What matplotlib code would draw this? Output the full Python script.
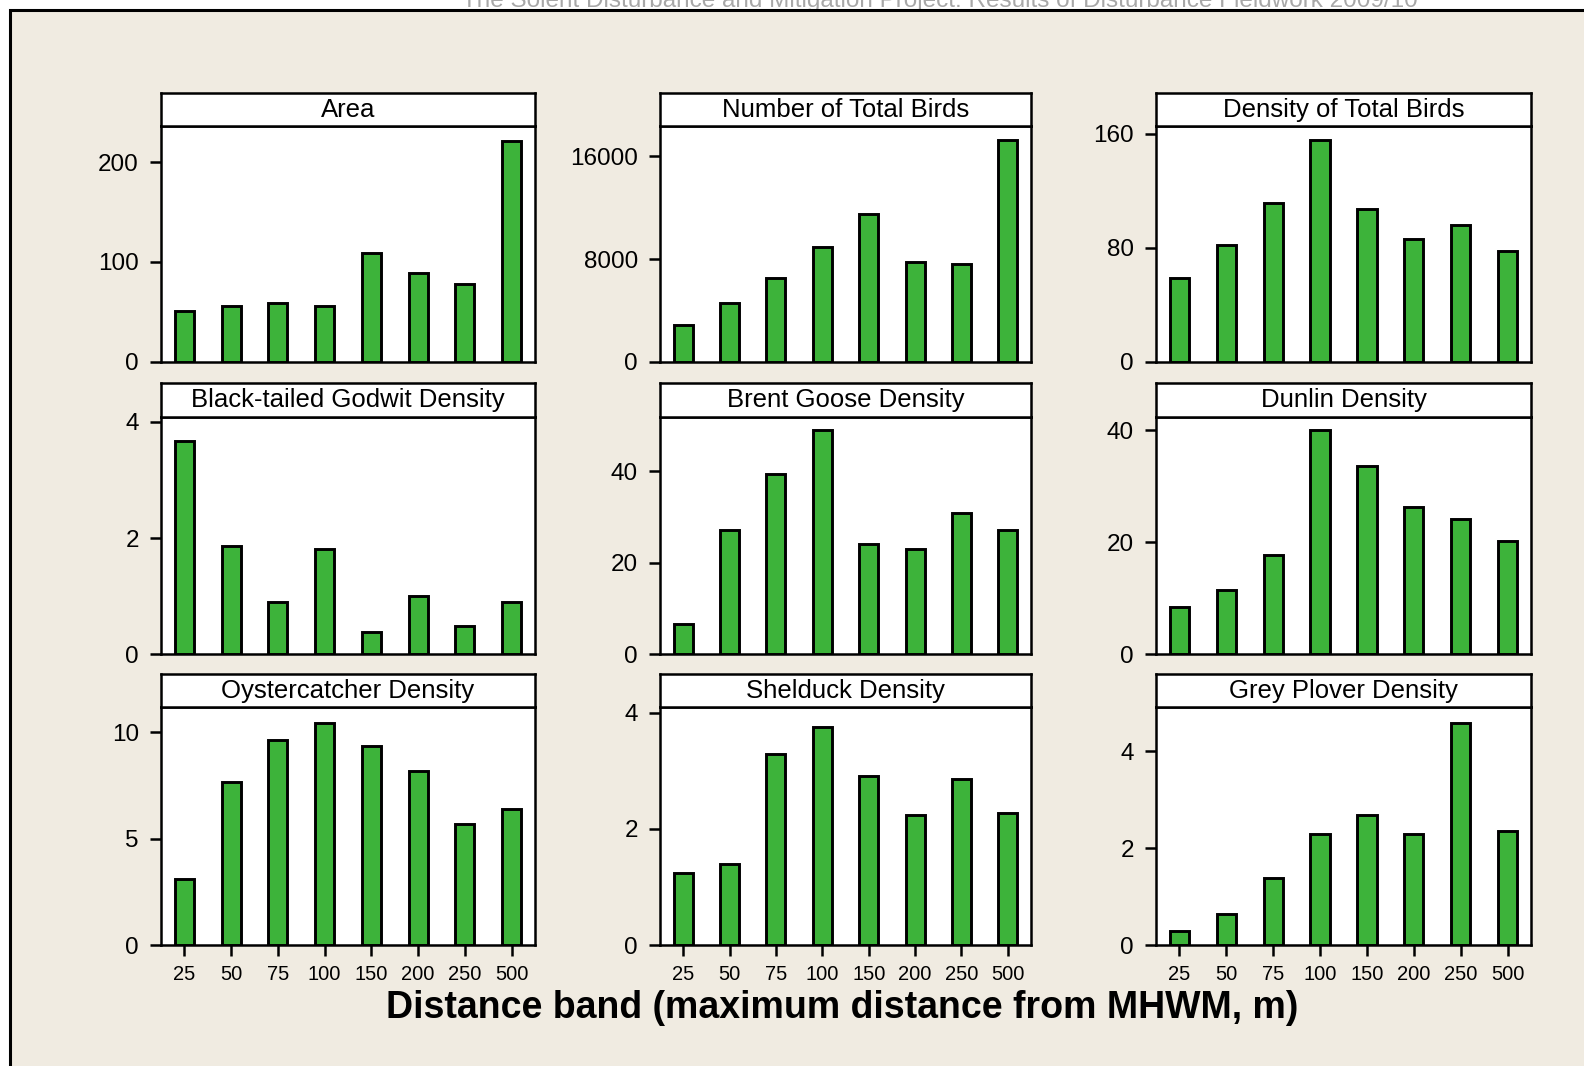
import matplotlib.pyplot as plt
from matplotlib.patches import Rectangle

plt.rcParams['font.family'] = ['Liberation Sans', 'DejaVu Sans']

bands = ['25', '50', '75', '100', '150', '200', '250', '500']

titles = ['Area', 'Number of Total Birds', 'Density of Total Birds',
          'Black-tailed Godwit Density', 'Brent Goose Density', 'Dunlin Density',
          'Oystercatcher Density', 'Shelduck Density', 'Grey Plover Density']

area = [51, 56, 58.5, 56, 108.5, 89, 78, 221.5]
total_birds = [2860, 4580, 6530, 8900, 11500, 7800, 7620, 17300]
total_density = [58.7, 82.1, 111.2, 155.8, 107.2, 85.9, 95.7, 78.1]
godwit = [3.68, 1.86, 0.90, 1.81, 0.38, 1.00, 0.48, 0.90]
brent = [6.6, 27.2, 39.3, 49.0, 24.2, 23.0, 30.9, 27.2]
dunlin = [8.4, 11.4, 17.8, 40.0, 33.6, 26.3, 24.2, 20.2]
oystercatcher = [3.13, 7.67, 9.62, 10.41, 9.36, 8.18, 5.71, 6.37]
shelduck = [1.25, 1.39, 3.28, 3.76, 2.91, 2.24, 2.86, 2.28]
grey_plover = [0.30, 0.64, 1.38, 2.29, 2.68, 2.29, 4.57, 2.35]

series = [area, total_birds, total_density, godwit, brent, dunlin,
          oystercatcher, shelduck, grey_plover]
yticks = [[0, 100, 200], [0, 8000, 16000], [0, 80, 160],
          [0, 2, 4], [0, 20, 40], [0, 20, 40],
          [0, 5, 10], [0, 2, 4], [0, 2, 4]]
ytops = [236, 18340, 165.4, 4.09, 51.9, 42.4, 11.16, 4.09, 4.90]

W, H = 1584, 1066
bg = '#f0ebe1'
green = '#3db33a'

fig = plt.figure(figsize=(W / 100, H / 100), dpi=100, facecolor='white')

# page heading, mostly hidden behind the frame
fig.text(940 / W, 1 - 1 / H, 'The Solent Disturbance and Mitigation Project: '
         'Results of Disturbance Fieldwork 2009/10',
         ha='center', va='center', fontsize=17.5, color='#a8a8a8', zorder=-10)

# beige panel with a black frame on top/left
fig.patches.append(Rectangle((10 / W, -0.1), 1.1, 1 - 10 / H + 0.1,
                             transform=fig.transFigure, facecolor=bg,
                             edgecolor='black', linewidth=2.2, zorder=-5))

cols = [(161, 535), (660, 1031), (1156, 1531)]
rows = [(93.3, 126.3, 361.7), (383.3, 416.7, 654.3), (674, 707.3, 945.3)]

for i, vals in enumerate(series):
    r, c = divmod(i, 3)
    x0, x1 = cols[c]
    st, sb, bot = rows[r]

    ax = fig.add_axes([x0 / W, 1 - bot / H, (x1 - x0) / W, (bot - sb) / H])
    ax.set_facecolor('white')
    ax.bar(range(len(bands)), vals, width=0.41, color=green,
           edgecolor='black', linewidth=2.1, zorder=3)
    ax.set_xlim(-0.5, len(bands) - 0.5)
    ax.set_ylim(0, ytops[i])
    ax.set_yticks(yticks[i])
    ax.tick_params(axis='y', direction='out', length=8, width=1.8,
                   labelsize=17.5, pad=8)
    if r == 2:
        ax.set_xticks(range(len(bands)))
        ax.set_xticklabels(bands)
        ax.tick_params(axis='x', direction='out', length=8, width=1.8,
                       labelsize=14.5, pad=6)
    else:
        ax.set_xticks([])
    for s in ax.spines.values():
        s.set_linewidth(1.8)

    strip = fig.add_axes([x0 / W, 1 - sb / H, (x1 - x0) / W, (sb - st) / H])
    strip.set_facecolor('white')
    strip.set_xticks([])
    strip.set_yticks([])
    for s in strip.spines.values():
        s.set_linewidth(1.8)
    strip.text(0.5, 0.5, titles[i], ha='center', va='center',
               fontsize=18.5, transform=strip.transAxes)

fig.text(842 / W, 1 - 1008 / H,
         'Distance band (maximum distance from MHWM, m)',
         ha='center', va='center', fontsize=27, fontweight='bold')

fig.savefig('out.png', dpi=100, facecolor=fig.get_facecolor())
